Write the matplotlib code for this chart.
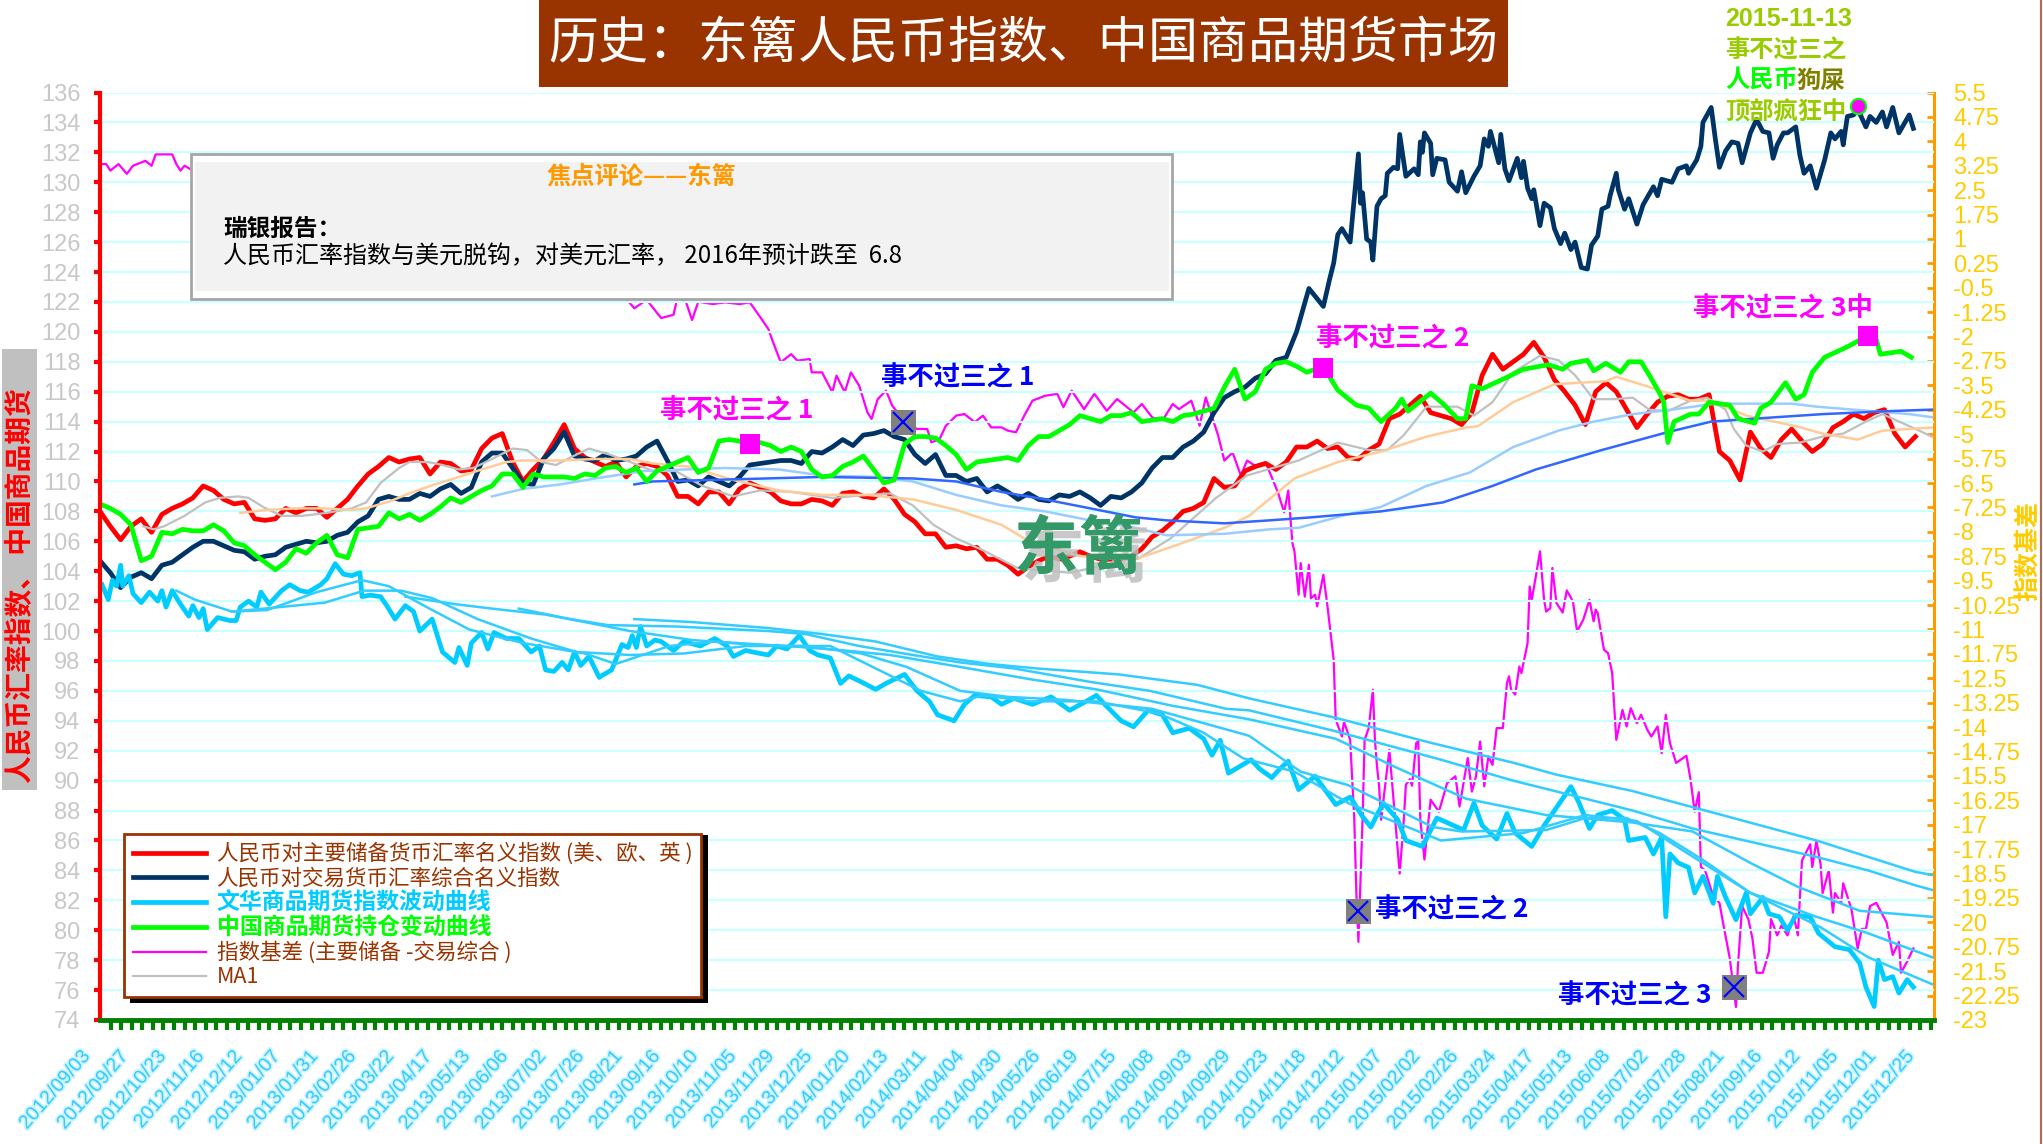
import numpy as np
import matplotlib
matplotlib.use('Agg')
import matplotlib.pyplot as plt
import matplotlib.patheffects as pe
from matplotlib.patches import Rectangle
from matplotlib.ticker import MultipleLocator
from matplotlib.transforms import ScaledTranslation

plt.rcParams['font.family'] = ['Noto Sans CJK SC', 'DejaVu Sans']
narrow = ['Liberation Sans Narrow', 'Liberation Sans', 'Noto Sans CJK SC']

# x is the trading day counted from 2012/09/03
date_labels = ['2012/09/03', '2012/09/27', '2012/10/23', '2012/11/16', '2012/12/12', '2013/01/07', '2013/01/31',
               '2013/02/26', '2013/03/22', '2013/04/17', '2013/05/13', '2013/06/06', '2013/07/02', '2013/07/26',
               '2013/08/21', '2013/09/16', '2013/10/10', '2013/11/05', '2013/11/29', '2013/12/25', '2014/01/20',
               '2014/02/13', '2014/03/11', '2014/04/04', '2014/04/30', '2014/05/26', '2014/06/19', '2014/07/15',
               '2014/08/08', '2014/09/03', '2014/09/29', '2014/10/23', '2014/11/18', '2014/12/12', '2015/01/07',
               '2015/02/02', '2015/02/26', '2015/03/24', '2015/04/17', '2015/05/13', '2015/06/08', '2015/07/02',
               '2015/07/28', '2015/08/21', '2015/09/16', '2015/10/12', '2015/11/05', '2015/12/01', '2015/12/25']
left_ticks = list(range(74, 137, 2))
right_tick_labels = ['5.5', '4.75', '4', '3.25', '2.5', '1.75', '1', '0.25', '-0.5', '-1.25', '-2', '-2.75', '-3.5',
                     '-4.25', '-5', '-5.75', '-6.5', '-7.25', '-8', '-8.75', '-9.5', '-10.25', '-11', '-11.75',
                     '-12.5', '-13.25', '-14', '-14.75', '-15.5', '-16.25', '-17', '-17.75', '-18.5', '-19.25',
                     '-20', '-20.75', '-21.5', '-22.25', '-23']

# every 5 trading days
red = [108, 107, 106.1, 107, 107.5, 106.6, 107.8, 108.2, 108.5, 108.9, 109.7, 109.4, 108.8, 108.5, 108.6, 107.5, 107.4,
       107.5, 108.2, 107.9, 108.2, 108.2, 107.6, 108.2, 108.8, 109.7, 110.5, 111, 111.6, 111.3, 111.5, 111.6, 110.5,
       111.3, 111.2, 110.7, 110.8, 112.2, 112.9, 113.2, 111.3, 110, 110.8, 111.5, 112.6, 113.8, 112.2, 111.6, 111.3,
       111, 111.3, 110.3, 111, 111.2,
       111, 110.4, 109, 109, 108.5, 109.3, 109.3, 108.5, 109.5, 109.9, 109.6, 109.3, 108.7, 108.5, 108.5, 108.8, 108.7,
       108.4, 109.2, 109.3, 109, 108.9, 109.5, 108.8, 107.8, 107.3, 106.5, 106.5, 105.6, 105.7, 105.5, 105.6, 104.8,
       104.8, 104.4, 103.8, 104.3, 104.7, 105, 104.8, 105, 105.3, 105, 104.8, 104.8, 104.8, 105, 105.5, 106.3, 106.7,
       107.3, 108, 108.2, 108.6, 110.2, 109.6, 109.7, 110.7, 111, 111.2, 110.8, 111.3, 112.3,
       112.3, 112.7, 112.2, 112.3, 111.6, 111.5, 112.1, 112.5, 114.2, 114.5, 115.1, 115.7, 114.6, 114.4, 114.2, 113.8,
       114.6, 117.1, 118.5, 117.5, 118, 118.5, 119.3, 118.3, 116.8, 116, 115.1, 113.8, 116, 116.6, 116, 114.8, 113.6,
       114.5, 115.3, 115.7, 115.8, 115.5, 115.5, 115.8, 112, 111.4, 110.1, 113.3, 112.2, 111.6, 112.8, 113.5, 112.7,
       112, 112.5, 113.6, 114, 114.5, 114.2, 114.6, 114.8, 113.2, 112.3, 113]

navy_head = [104.7, 103.9, 102.9, 103.6, 103.9, 103.5, 104.4, 104.6, 105.1, 105.6, 106, 106, 105.7, 105.4, 105.3, 104.8,
             105, 105.1, 105.6, 105.8, 106, 105.9, 106, 106.4, 106.6, 107.3, 107.7, 108.8, 109, 108.8, 108.8, 109.2, 109,
             109.5, 109.8, 109.2, 109.6, 111.3, 111.9, 111.9, 110.9, 109.9, 109.8, 111.5, 112.2, 113.3, 111.7, 111.5,
             111.4, 111.8, 111.4, 111.5, 111.7, 112.3,
             112.7, 111.4, 110, 110.1, 109.7, 110.3, 110, 109.7, 110.3, 111.1, 111.2, 111.3, 111.4, 111.4, 111.2, 112,
             111.9, 112.3, 112.8, 112.4, 113.1, 113.2, 113.4, 113, 112.8, 111.8, 111.2, 111.8, 110.4, 110.4, 110, 110.2,
             109.3, 109.7, 109.3, 108.8, 109.2, 108.8, 108.7, 109.1, 109, 109.3, 108.9, 108.4, 109, 108.9, 109.3, 109.9,
             110.9, 111.6, 111.6, 112.3, 112.7, 113.3, 114.6, 115.6, 116, 116.3, 116.9, 117.2, 118.1, 118.3, 120]
navy_tail = [(586, 122.9), (593, 121.7), (596, 123.5), (598, 124.6), (600, 126.5), (602, 126.9), (606, 126), (607, 127.5),
             (610, 131.9), (611, 128.6), (612, 129.3), (614, 126.2), (616, 126), (617, 124.8), (619, 128.4), (621, 128.9),
             (623, 129.1), (624, 130.6), (627, 131), (629, 130.9), (630, 133.2), (633, 130.4), (637, 130.9), (639, 130.5),
             (640, 132.7), (641, 132), (642, 133.3), (645, 132.6), (646, 130.5), (648, 131.6), (652, 131.5), (654, 130),
             (658, 129.4), (660, 130.7), (662, 129.3), (666, 130.4), (669, 131.1), (671, 132.9), (673, 132.4), (674, 133.4),
             (678, 131.3), (679, 133.2), (681, 130.9), (683, 130.1), (687, 131.6), (689, 130.3), (690, 131.4), (692, 129.6),
             (694, 128.9), (695, 129.5), (698, 127.1), (700, 128.6), (703, 128.3), (705, 126.9), (708, 125.9), (710, 126.6),
             (713, 125.5), (715, 126), (718, 124.3), (721, 124.2), (723, 125.8), (726, 126.4), (728, 128.2), (731, 128.4),
             (732, 129.1), (735, 130.6), (736, 129.5), (739, 128.2), (741, 128.9), (745, 127.2), (748, 128.5), (753, 129.7),
             (755, 129.1), (757, 130.2), (762, 130), (765, 130.9), (769, 131.1), (770, 130.6), (774, 131.5), (776, 132.4),
             (777, 134), (781, 135), (783, 132.9), (785, 131), (788, 132.1), (791, 132.7), (794, 132.6), (796, 131.3),
             (800, 133.3), (803, 134.2), (806, 133.4), (809, 133.3), (811, 131.6), (813, 132.5), (816, 133.3), (818, 133.3),
             (822, 133.7), (824, 131.8), (826, 130.6), (829, 131.1), (832, 129.6), (836, 131.5), (839, 133.3), (841, 132.9),
             (844, 133.4), (845, 132.5), (847, 134.4), (850, 134.5), (852, 134.9), (856, 133.7), (858, 134.4), (861, 134),
             (864, 134.7), (866, 133.7), (869, 135), (872, 133.3), (877, 134.5), (879, 133.6)]

green_head = [108.5, 108.2, 107.8, 107.1, 104.7, 105, 106.6, 106.5, 106.8, 106.7, 106.7, 107.1, 106.7, 105.9, 105.7, 105.1,
              104.6, 104.1, 104.6, 105.5, 105.2, 105.9, 106.4, 105.1, 104.9, 106.8, 106.9, 107, 107.9, 107.5, 107.8, 107.4,
              107.8, 108.3, 108.9, 108.6, 109, 109.4, 109.7, 110.5, 110.5, 109.6, 110.5, 110.3, 110.3, 110.3, 110.2, 110.5,
              110.4, 110.9, 111, 110.6, 110.9, 110,
              110.7, 111, 111.3, 111.6, 110.6, 110.9, 112.7, 112.8, 112.7, 112.3, 112.6, 112.4, 112, 112.3, 112, 110.8,
              110.3, 110.4, 111, 111.3, 111.7, 110.8, 109.9, 110.1, 112.5, 113, 113, 112.9, 112.4, 111.8, 110.8, 111.3,
              111.4, 111.5, 111.6, 111.4, 112.4, 113, 113, 113.4, 113.8, 114.4, 114.2, 114, 114.4, 114.4, 114.6, 114, 114.1,
              114.2, 114, 114.4, 114.5, 114.7, 114.9, 116.3, 117.5, 115.5, 116, 117.5, 117.9, 118, 117.7]
green_tail = [(585, 117.3), (593, 117.7), (596, 117), (600, 116.1), (609, 115.1), (615, 114.9), (621, 114), (628, 114.9),
              (631, 115.5), (634, 114.7), (645, 115.9), (651, 115.2), (658, 114.2), (662, 114.2), (665, 116.4), (670, 116.2),
              (681, 116.9), (690, 117.5), (702, 117.8), (709, 117.5), (713, 117.9), (721, 118.1), (724, 117.4), (730, 117.9),
              (737, 117.3), (741, 118), (747, 118), (751, 117.1), (756, 115.9), (758, 115.3), (760, 112.6), (763, 114),
              (771, 114.5), (775, 114.5), (780, 115.3), (790, 115.1), (794, 114.2), (802, 113.9), (805, 114.9), (810, 115.3),
              (817, 116.6), (822, 115.5), (826, 115.8), (830, 117.3), (836, 118.3), (847, 119), (855, 119.6), (861, 119.5),
              (863, 118.5), (873, 118.7), (878, 118.3)]

cyan = [(1, 103.1), (4, 102.1), (6, 103.4), (8, 103), (10, 104.4), (11, 103), (14, 103.7), (16, 102.5), (20, 101.9), (24, 102.6),
        (28, 102), (30, 102.7), (32, 101.6), (35, 102.7), (39, 101.8), (43, 101), (45, 101.7), (48, 100.9), (50, 101.5), (52, 100.1),
        (57, 100.9), (63, 100.7), (66, 100.7), (68, 101.6), (72, 102), (76, 101.6), (78, 102.6), (82, 101.8), (88, 102.7), (92, 103.1),
        (97, 102.7), (101, 102.6), (107, 103.1), (110, 103.5), (114, 104.5), (118, 103.8), (122, 103.7), (126, 103.9), (127, 102.3),
        (131, 102.4), (136, 102.3), (139, 101.7), (143, 100.8), (148, 101.7), (152, 101.3), (155, 100), (161, 100.8), (166, 98.6),
        (172, 97.9), (174, 98.9), (178, 97.7), (180, 99.2), (185, 99.9), (188, 98.8), (191, 99.9), (197, 99.5), (203, 99.5), (209, 98.6),
        (213, 99), (216, 97.4), (220, 97.3), (224, 97.9), (227, 97.4), (230, 98.6), (233, 97.7), (237, 98.3), (242, 96.9), (243, 97),
        (248, 97.4), (253, 99.1), (256, 98.9), (258, 99.7), (260, 98.9), (262, 100.3), (265, 99), (269, 99.4),
        (272, 99.3), (278, 98.7), (283, 99.3), (291, 99), (298, 99.5), (304, 99), (307, 98.3), (313, 98.7), (320, 98.5), (324, 98.4),
        (328, 99), (333, 98.8), (339, 99.7), (344, 98.7), (348, 98.4), (354, 98.2), (359, 96.5), (363, 97), (369, 96.6), (376, 96.1),
        (381, 96.5), (390, 97.1), (396, 96), (402, 95.3), (406, 94.4), (414, 94), (419, 95.1), (424, 95.7), (432, 95.6), (437, 95.1),
        (443, 95.5), (452, 95.1), (461, 95.6), (470, 94.7), (478, 95.3), (483, 95.7), (487, 95.1), (495, 94), (501, 93.6), (508, 94.7),
        (515, 94.4), (520, 93.2), (528, 93.5), (535, 92.8), (539, 91.7), (543, 92.7), (547, 90.5), (558, 91.4), (562, 90.8), (568, 90.2),
        (572, 90.8), (576, 91.3), (581, 89.4), (589, 90.3), (599, 88.4), (606, 88.9), (612, 87.6), (616, 86.9), (622, 88.5), (629, 87.4),
        (633, 86), (641, 85.6), (648, 87.5), (661, 86.7), (666, 88.5), (670, 87), (677, 86.1), (682, 87.8), (686, 86.5), (694, 85.6),
        (700, 87), (706, 88.2), (713, 89.6), (717, 88.5), (722, 86.8), (726, 87.7), (733, 88), (739, 87.4), (741, 86), (749, 86.2),
        (753, 85.1), (757, 86.2), (759, 80.9), (761, 85.1), (765, 84.5), (770, 84.2), (773, 82.5), (777, 83.6), (782, 81.8), (784, 83.6),
        (788, 82.2), (793, 80.7), (798, 82.5), (800, 81.1), (806, 82.2), (809, 81.1), (814, 80.9), (818, 80), (822, 81), (829, 80.9),
        (833, 79.8), (841, 78.9), (848, 78.7), (853, 77.8), (856, 76.2), (860, 74.9), (862, 78), (865, 76.7), (869, 76.9), (872, 75.8),
        (876, 76.7), (879, 76.2)]

cyan_ma1 = [(259, 100.8), (287, 100.6), (324, 100.2), (350, 99.8), (376, 99.3), (406, 98.3), (431, 97.8), (454, 97.5), (494, 97.1),
            (532, 96.4), (557, 95.5), (599, 94.2), (643, 92.6), (685, 91.2), (706, 90.4), (743, 89.3), (789, 87.6), (832, 86),
            (880, 83.9), (888, 83.7)]
cyan_ma2 = [(203, 101.5), (228, 100.8), (246, 100.4), (280, 100.3), (324, 100), (342, 99.8), (368, 99), (394, 98.4), (417, 97.9),
            (443, 97.5), (480, 96.6), (509, 96), (546, 94.8), (557, 94.7), (599, 93.3), (650, 91.4), (685, 90), (743, 88), (772, 86.8),
            (832, 84.9), (857, 84), (880, 83), (888, 82.7)]
cyan_ma3 = [(148, 102.3), (172, 101.8), (190, 101.5), (216, 101.1), (235, 100.6), (257, 100), (287, 99.4), (315, 99.1), (333, 99),
            (361, 98.7), (383, 98.4), (417, 97.6), (450, 96.8), (483, 96.1), (520, 95), (557, 94.1), (599, 92.8), (628, 90.9),
            (662, 88.8), (701, 87.7), (743, 87.2), (772, 86.6), (800, 84.5), (823, 82.9), (853, 81.3), (888, 80.9)]
cyan_ma4 = [(64, 101.3), (87, 101.6), (109, 101.9), (128, 102.7), (146, 102.7), (161, 102.2), (183, 100.8), (209, 99.5), (231, 98.6),
            (257, 98.4), (283, 98.5), (313, 99), (342, 99), (369, 98.5), (391, 97.6), (417, 96), (440, 95.6), (468, 95.4), (510, 94.8),
            (557, 93), (582, 90.6), (605, 89.7), (646, 86.9), (660, 86.6), (701, 86.7), (720, 87.5), (740, 87.5), (756, 86.5),
            (777, 84.7), (800, 82.5), (832, 80.9), (857, 79.8), (888, 78.2)]
cyan_ma5 = [(37, 102.7), (46, 102.1), (64, 101.3), (81, 101.4), (105, 102.6), (127, 103.4), (140, 103), (157, 101.7), (179, 100.1),
            (205, 99.2), (235, 98.5), (250, 97.8), (276, 99), (298, 99.3), (331, 99), (354, 99), (376, 97.5), (398, 96), (417, 95.3),
            (428, 95.7), (450, 95.3), (483, 95.3), (513, 94.5), (535, 93.2), (554, 91.5), (579, 90.6), (605, 88.5), (650, 86),
            (690, 86.5), (720, 87.7), (745, 87.3), (770, 85.1), (800, 82.5), (834, 80.2), (857, 78.2), (888, 76.4)]

ma_gray = [(21, 107), (26, 106.8), (31, 107), (41, 107.7), (51, 108.6), (58, 108.9), (67, 109), (72, 108.9), (79, 108.3), (88, 107.7),
           (98, 107.7), (110, 107.9), (122, 108.2), (129, 108.6), (136, 109.9), (145, 110.9), (150, 111.3), (159, 111.3), (166, 111.1),
           (174, 110.8), (181, 110.9), (190, 111.5), (200, 112.2), (207, 112.1), (214, 111.3), (221, 111.1), (228, 111.6), (237, 112.2),
           (247, 111.8), (257, 111.3), (268, 110.7), (279, 110.7), (292, 109.7), (307, 109), (320, 109.4), (335, 109.3), (355, 108.9),
           (372, 109.1), (383, 109.2), (394, 108.4), (404, 107.1), (415, 106.2), (428, 105.4), (445, 104.2), (470, 103.9), (497, 104.7),
           (504, 104.9), (519, 106.2), (541, 108.9), (556, 110.4), (581, 111.4), (600, 112.6), (615, 112.1), (624, 112.1), (632, 113.1),
           (643, 115), (649, 115), (658, 115), (666, 114.4), (675, 115.3), (685, 117.3), (698, 118.4), (707, 118.1), (715, 117.1),
           (724, 115.5), (734, 115.5), (743, 115.6), (751, 114.8), (760, 114.7), (771, 115.4), (779, 115.6), (788, 114.8), (792, 113.5),
           (798, 112.4), (806, 112), (813, 112.5), (824, 112.6), (835, 113), (845, 113.2), (856, 114), (864, 114.5), (877, 113.7), (888, 113)]
ma_orange = [(68, 107.9), (81, 108.1), (95, 108.2), (108, 108.2), (122, 108.1), (129, 108.2), (141, 108.7), (150, 109.2), (160, 109.7),
             (174, 110.3), (185, 110.8), (197, 111.3), (205, 111.4), (223, 111.4), (240, 111.5), (257, 111.5), (268, 111.2), (285, 111),
             (307, 110.1), (329, 109.4), (350, 109.1), (372, 109.1), (394, 108.8), (415, 108.1), (437, 107.1), (448, 106.2), (475, 105),
             (502, 104.8), (523, 105.8), (545, 106.9), (557, 107.7), (579, 110.2), (600, 111.3), (621, 112), (643, 113), (662, 113.6),
             (668, 113.7), (685, 115.3), (705, 116.5), (730, 116.7), (735, 117), (749, 116.4), (771, 115.4), (781, 115.4), (798, 114.4),
             (822, 113.7), (835, 113.2), (852, 112.8), (864, 113.4), (888, 113.6)]
ma_light = [(190, 109), (205, 109.5), (223, 109.8), (240, 110.2), (264, 110.7), (303, 110.9), (329, 110.8), (350, 110.4), (376, 110.3),
            (394, 110), (415, 109.1), (437, 108.4), (458, 108), (480, 107.4), (502, 106.9), (517, 106.4), (545, 106.5), (567, 106.8),
            (581, 106.9), (602, 107.7), (621, 108.3), (643, 109.7), (664, 110.6), (685, 112.3), (707, 113.4), (724, 114), (743, 114.5),
            (762, 114.8), (783, 115.2), (820, 115.2), (832, 115), (877, 114.5), (888, 114.3)]
ma_blue = [(259, 109.8), (268, 110), (296, 110.1), (350, 110.3), (394, 110.2), (415, 110), (437, 109.3), (458, 108.8), (480, 108.2),
           (502, 107.6), (517, 107.4), (545, 107.2), (567, 107.4), (587, 107.6), (621, 108), (651, 108.6), (675, 109.7), (696, 110.8),
           (728, 112.1), (760, 113.3), (781, 114), (813, 114.3), (835, 114.5), (867, 114.7), (888, 114.8)]

# index basis, right axis. the stretch behind the comment box is not visible in the picture
basis = [(0, 3.3), (3, 3.3), (5, 3.1), (9, 3.3), (13, 3), (16, 3.25), (22, 3.4), (25, 3.25), (27, 3.6), (35, 3.6), (37, 3.3), (39, 3.1),
         (41, 3.25), (45, 3.1), (47, 3.3), (50, 3.4), (52, 3.6), (55, 3.4), (60, 3.2), (100, 2), (150, 0.8), (200, 0), (252, -0.62),
         (259, -1.13), (265, -0.87), (272, -1.43), (278, -1.33), (280, -0.77), (284, -0.93), (287, -1.49), (290, -0.93), (297, -1),
         (303, -0.95), (310, -1), (315, -0.95), (320, -1.4), (324, -1.77), (326, -2.13), (330, -2.79), (335, -2.54), (338, -2.74),
         (344, -2.69), (345, -3.1), (350, -3.1), (355, -3.71), (357, -3.2), (361, -3.71), (364, -3.1), (368, -3.51), (372, -4.33),
         (374, -4.53), (377, -3.92), (381, -3.66), (384, -4.12), (389, -4.53), (396, -4.84), (401, -4.84), (403, -5.25), (407, -5.15),
         (410, -4.74), (415, -4.43), (419, -4.38), (424, -4.63), (428, -4.43), (432, -4.79), (437, -4.79), (440, -4.89), (444, -4.94),
         (448, -4.43), (452, -3.97), (458, -3.82), (464, -3.76), (467, -4.17), (471, -3.66), (477, -4.23), (482, -3.76), (488, -4.28),
         (493, -3.92), (501, -4.33), (505, -4.07), (510, -4.48), (515, -4.58), (520, -4.07), (523, -4.23), (529, -3.97), (533, -4.74),
         (536, -3.87), (542, -5.04), (545, -5.81), (549, -5.56), (553, -6.27), (556, -5.81), (560, -5.97), (565, -5.86), (569, -6.48),
         (571, -6.79), (574, -7.4), (576, -6.73), (578, -8.35), (579, -8.6), (581, -9.93), (582, -8.96), (584, -9.99), (586, -9.01),
         (587, -10.04), (589, -9.93), (590, -10.29), (593, -9.32), (595, -10.29), (598, -11.93), (599, -13.77), (602, -14.29),
         (603, -13.83), (606, -14.39), (608, -16.85), (609, -19.1), (610, -20.6), (612, -16.85), (613, -14.39), (615, -14.03),
         (617, -12.85), (618, -14.39), (619, -15.2), (620, -15.8), (621, -16.85), (625, -14.7), (630, -18.5), (632, -16.85),
         (633, -15.77), (635, -15.6), (636, -15.8), (638, -14.49), (639, -14.44), (640, -16.85), (642, -18.07), (645, -16.23),
         (649, -16.6), (653, -15.72), (657, -15.51), (659, -16.44), (663, -14.95), (665, -15.98), (667, -15.51), (669, -14.44),
         (671, -15.82), (673, -14.9), (675, -15.16), (677, -14.03), (680, -14.03), (682, -12.65), (683, -12.44), (684, -12.85),
         (686, -13), (688, -12.14), (689, -12.34), (692, -11.42), (693, -9.68), (694, -10.09), (696, -9.37), (698, -8.6), (700, -10.09),
         (701, -10.45), (703, -10.35), (704, -9.11), (706, -10.19), (709, -10.48), (711, -9.8), (714, -10.14), (716, -11.06),
         (719, -10.7), (722, -10.09), (724, -10.75), (725, -10.39), (726, -10.5), (729, -11.62), (731, -11.73), (733, -12.34),
         (735, -14.39), (738, -13.47), (740, -13.98), (742, -13.42), (745, -13.88), (747, -13.62), (750, -14.08), (752, -14.29),
         (755, -13.98), (757, -14.8), (759, -13.62), (761, -14.49), (764, -15.1), (769, -14.88), (771, -15.62), (773, -16.6),
         (775, -16), (776, -18.3), (778, -18.4), (779, -18.6), (782, -19.2), (785, -19.4), (787, -20.1), (790, -21.1), (793, -22.6),
         (794, -21.3), (796, -19.5), (799, -19.9), (801, -20.5), (803, -21.55), (806, -21.55), (809, -20.9), (810, -19.9), (813, -20.4),
         (815, -20.1), (818, -20.4), (821, -19.8), (823, -20.4), (825, -18.1), (829, -17.6), (830, -18.3), (832, -17.5), (834, -18.2),
         (835, -19.1), (838, -18.4), (840, -19.7), (841, -19.1), (844, -19.4), (845, -18.8), (849, -19.6), (852, -20.8), (854, -20.2),
         (856, -20.2), (858, -19.5), (861, -19.4), (866, -20), (869, -21), (872, -20.6), (873, -21.55), (876, -21.2), (879, -20.8)]

# marker spots on the left axis
square_x, square_y = [315, 593, 857], [112.5, 117.6, 119.7]
cross_x, cross_y = [389, 610, 792], [114, 81.3, 76.2]
dot_x, dot_y = [852], [135.1]

fig = plt.figure(figsize=(20.43, 11.44), dpi=100, facecolor='white')
ax = fig.add_axes([100 / 2043, 124 / 1144, 1834 / 2043, 927.5 / 1144])
ax2 = ax.twinx()
ax.set_zorder(2)
ax2.set_zorder(1)
ax.patch.set_visible(False)
ax.set_xlim(0, 889)
ax.set_ylim(74, 136)
ax2.set_ylim(-23, 5.5)


def pairs(seq):
    return [p[0] for p in seq], [p[1] for p in seq]


ax2.plot(*pairs(basis), color='#FF00FF', lw=1.6, label='指数基差 (主要储备 -交易综合 )')

l_red, = ax.plot(np.arange(len(red)) * 5, red, color='#FF0000', lw=3.4, label='人民币对主要储备货币汇率名义指数 (美、欧、英 )')
navy_x = list(np.arange(len(navy_head)) * 5) + pairs(navy_tail)[0]
navy_y = navy_head + pairs(navy_tail)[1]
l_navy, = ax.plot(navy_x, navy_y, color='#003366', lw=3.4, label='人民币对交易货币汇率综合名义指数')
l_cyan, = ax.plot(*pairs(cyan), color='#00CCFF', lw=3.4, label='文华商品期货指数波动曲线')
for ma in [cyan_ma1, cyan_ma2, cyan_ma3, cyan_ma4, cyan_ma5]:
    ax.plot(*pairs(ma), color='#33CCFF', lw=1.8)
l_gray, = ax.plot(*pairs(ma_gray), color='#C0C0C0', lw=1.6, label='MA1')
ax.plot(*pairs(ma_orange), color='#FFCC99', lw=1.8)
ax.plot(*pairs(ma_light), color='#99CCFF', lw=1.8)
ax.plot(*pairs(ma_blue), color='#3366FF', lw=1.8)
green_x = list(np.arange(len(green_head)) * 5) + pairs(green_tail)[0]
green_y = green_head + pairs(green_tail)[1]
l_green, = ax.plot(green_x, green_y, color='#00FF00', lw=3.4, label='中国商品期货持仓变动曲线')

ax.plot(square_x, square_y, 's', color='#FF00FF', ms=14, mew=0)
ax.plot(cross_x, cross_y, 's', color='#808080', ms=18, mew=0)
ax.plot(cross_x, cross_y, 'x', color='#0000FF', ms=14, mew=1.5)
ax.plot(dot_x, dot_y, 'o', mfc='#FF00FF', mec='#00FF00', ms=11, mew=1.5)

# axes
ax.set_yticks(left_ticks)
ax.grid(axis='y', color='#CCFFFF', lw=1.6)
ax.set_axisbelow(True)
ax.tick_params(axis='y', colors='#FF0000', width=3, length=4, pad=10)
for t in ax.get_yticklabels():
    t.set_color('#C8C8C8')
    t.set_fontfamily(narrow)
    t.set_fontsize(17)
ax.spines['left'].set_color('#FF0000')
ax.spines['left'].set_linewidth(3)
ax.spines['bottom'].set_color('#008000')
ax.spines['bottom'].set_linewidth(3.5)
ax.spines['top'].set_visible(False)
ax.spines['right'].set_visible(False)

label_x = [i * 18.42 for i in range(len(date_labels))]
ax.set_xticks(label_x)
ax.set_xticklabels(date_labels, rotation=49, ha='right', rotation_mode='anchor', fontfamily=narrow, fontsize=14,
                   color='#33CCFF', path_effects=[pe.withStroke(linewidth=2.5, foreground='#CDF3FF')])
ax.set_xlim(0, 889)
ax.tick_params(axis='x', which='major', length=0, pad=20)
ax.xaxis.set_minor_locator(MultipleLocator(5.13))
ax.tick_params(axis='x', which='minor', length=7, width=3, color='#008000')
# the date labels sit a little left of their day
shift = ScaledTranslation(-0.19, 0, fig.dpi_scale_trans)
for t in ax.get_xticklabels():
    t.set_transform(t.get_transform() + shift)

ax2.set_yticks(np.linspace(5.5, -23, len(right_tick_labels)))
ax2.set_yticklabels(right_tick_labels, fontfamily=narrow, fontsize=17, color='#FFCC00')
ax2.tick_params(axis='y', direction='in', length=5, width=2, color='#FF9900', pad=14)
ax2.spines['right'].set_color('#FF9900')
ax2.spines['right'].set_linewidth(2.2)
for s in ['left', 'top', 'bottom']:
    ax2.spines[s].set_visible(False)

# overlay in pixels, for the boxes and the free text
ov = fig.add_axes([0, 0, 1, 1], zorder=10)
ov.set_xlim(0, 2043)
ov.set_ylim(1144, 0)
ov.axis('off')

ov.add_patch(Rectangle((539, 0), 969, 87, fc='#993300', ec='none'))
ov.text(1023, 44, '历史：东篱人民币指数、中国商品期货市场', color='white', fontsize=36, ha='center', va='center')
ov.plot([2041, 2041], [0, 1144], color='#A9705A', lw=1.6)

ov.add_patch(Rectangle((191, 154), 981, 145, fc='white', ec='#A6A6A6', lw=2))
ov.add_patch(Rectangle((195, 162), 974, 129, fc='#F2F2F2', ec='none'))
ov.text(641, 177, '焦点评论——东篱', color='#FF9900', fontsize=17.5, fontweight='bold', ha='center', va='center')
ov.text(223, 229, '瑞银报告：', color='black', fontsize=17, fontweight='bold', ha='left', va='center')
ov.text(223, 256, '人民币汇率指数与美元脱钩，对美元汇率， 2016年预计跌至  6.8', color='black', fontsize=17.3, ha='left', va='center')

ann = dict(fontsize=19, fontweight='bold', ha='left', va='center')
ov.text(660, 411, '事不过三之 1', color='#FF00FF', **ann)
ov.text(881, 378, '事不过三之 1', color='#0000FF', **ann)
ov.text(1316, 339, '事不过三之 2', color='#FF00FF', **ann)
ov.text(1693, 309, '事不过三之 3中', color='#FF00FF', **ann)
ov.text(1375, 910, '事不过三之 2', color='#0000FF', **ann)
ov.text(1558, 996, '事不过三之 3', color='#0000FF', **ann)

top = dict(fontsize=17.5, fontweight='bold', ha='left', va='center')
ov.text(1725, 19, '2015-11-13', color='#99CC00', fontfamily=narrow, fontsize=18, fontweight='bold', ha='left', va='center')
ov.text(1725, 51, '事不过三之', color='#99CC00', **top)
ov.text(1725, 81, '人民币', color='#00FF00', **top)
ov.text(1797, 81, '狗屎', color='#808000', **top)
ov.text(1725, 112, '顶部疯狂中', color='#99CC00', **top)

# watermark
shadow = [pe.withSimplePatchShadow(offset=(5, -6), shadow_rgbFace='#BFBFBF', alpha=0.85), pe.Normal()]
for cx, ch in [(1046, '东'), (1111, '篱')]:
    ov.text(cx, 550, ch, color='#339966', fontsize=46, fontweight='bold', ha='center', va='center', path_effects=shadow)

# axis titles
ov.add_patch(Rectangle((2, 349), 35, 441, fc='#C0C0C0', ec='none'))
ov.text(21, 586, '人民币汇率指数、 中国商品期货', color='#FF0000', fontsize=20, fontweight='bold', rotation=90,
        ha='center', va='center')
ov.text(2029, 551, '指数基差', color='#FFCC00', fontsize=18, fontweight='bold', rotation=90, ha='center', va='center')

# legend with its hard shadow
ov.add_patch(Rectangle((130, 835), 578, 168, fc='black', ec='none'))
leg = ov.legend(handles=[l_red, l_navy, l_cyan, l_green, ax2.get_lines()[0], l_gray], loc='lower left',
                bbox_to_anchor=(124 / 2043, 1 - 997 / 1144), bbox_transform=fig.transFigure, borderaxespad=0,
                fontsize=15.5, frameon=True, fancybox=False, framealpha=1, edgecolor='#993300', borderpad=0.4,
                labelspacing=0.1, handlelength=3.4, handletextpad=0.5)
leg.get_frame().set_linewidth(2)
for t, col, bold in zip(leg.get_texts(), ['#993300', '#993300', '#00CCFF', '#00FF00', '#993300', '#993300'],
                        [False, False, True, True, False, False]):
    t.set_color(col)
    if bold:
        t.set_fontweight('bold')
        t.set_fontsize(16.5)

plt.savefig('out.png', dpi=100)
